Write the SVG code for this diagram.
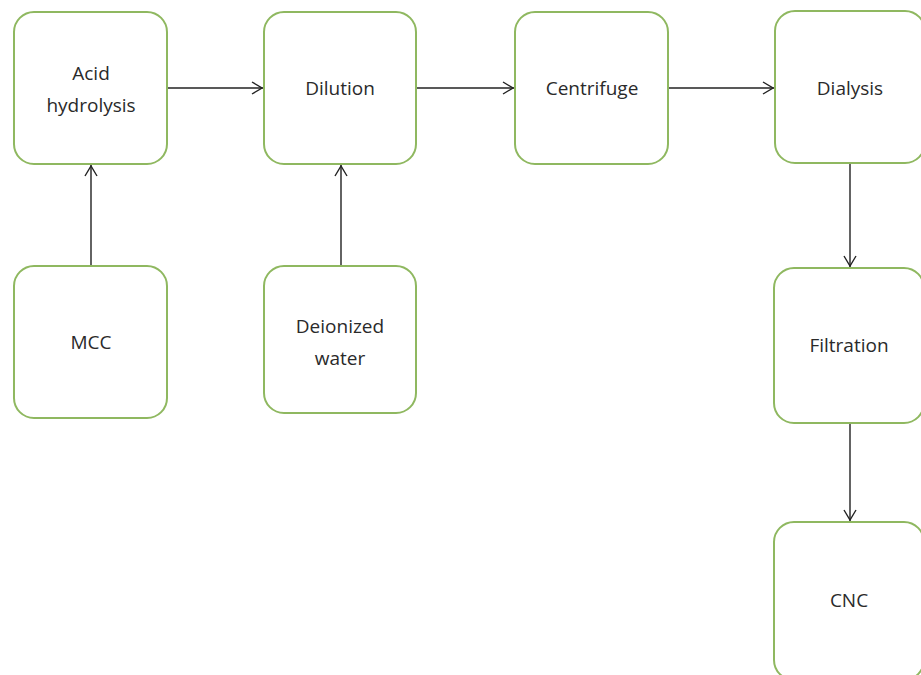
<svg xmlns="http://www.w3.org/2000/svg" width="921" height="675" viewBox="0 0 921 675">
<style>
.box{fill:#fff;stroke:#8fb860;stroke-width:2}
.t{font-family:"Open Sans","Liberation Sans",sans-serif;font-size:19px;fill:#2a2a2a;text-anchor:middle}
.c{stroke:#222;stroke-width:1.4;fill:none}
</style>
<defs>
<marker id="ah" viewBox="0 0 12 14" refX="12" refY="7" markerWidth="12" markerHeight="14" markerUnits="userSpaceOnUse" orient="auto">
<path d="M1,1 L11,7 L1,13" fill="none" stroke="#222" stroke-width="1.4"/>
</marker>
</defs>
<rect width="921" height="675" fill="#fff"/>
<g id="connectors">
<line class="c" x1="167" y1="88" x2="263" y2="88" marker-end="url(#ah)"/>
<line class="c" x1="416" y1="88" x2="514" y2="88" marker-end="url(#ah)"/>
<line class="c" x1="668" y1="88" x2="774" y2="88" marker-end="url(#ah)"/>
<line class="c" x1="91" y1="265" x2="91" y2="165" marker-end="url(#ah)"/>
<line class="c" x1="341" y1="265" x2="341" y2="165" marker-end="url(#ah)"/>
<line class="c" x1="850" y1="164" x2="850" y2="267" marker-end="url(#ah)"/>
<line class="c" x1="850" y1="423" x2="850" y2="521" marker-end="url(#ah)"/>
</g>
<g id="acid">
<rect class="box" x="14" y="12" width="153" height="152" rx="20"/>
<text class="t" x="91" y="80">Acid</text>
<text class="t" x="91" y="112">hydrolysis</text>
</g>
<g id="dilution">
<rect class="box" x="264" y="12" width="152" height="152" rx="20"/>
<text class="t" x="340" y="95">Dilution</text>
</g>
<g id="centrifuge">
<rect class="box" x="515" y="12" width="153" height="152" rx="20"/>
<text class="t" x="592" y="95">Centrifuge</text>
</g>
<g id="dialysis">
<rect class="box" x="775" y="11" width="150" height="152" rx="20"/>
<text class="t" x="850" y="95">Dialysis</text>
</g>
<g id="mcc">
<rect class="box" x="14" y="266" width="153" height="152" rx="20"/>
<text class="t" x="91" y="349">MCC</text>
</g>
<g id="water">
<rect class="box" x="264" y="266" width="152" height="147" rx="20"/>
<text class="t" x="340" y="333">Deionized</text>
<text class="t" x="340" y="365">water</text>
</g>
<g id="filtration">
<rect class="box" x="774" y="268" width="150" height="155" rx="20"/>
<text class="t" x="849" y="352">Filtration</text>
</g>
<g id="cnc">
<rect class="box" x="774" y="522" width="150" height="158" rx="20"/>
<text class="t" x="849" y="607">CNC</text>
</g>
</svg>
